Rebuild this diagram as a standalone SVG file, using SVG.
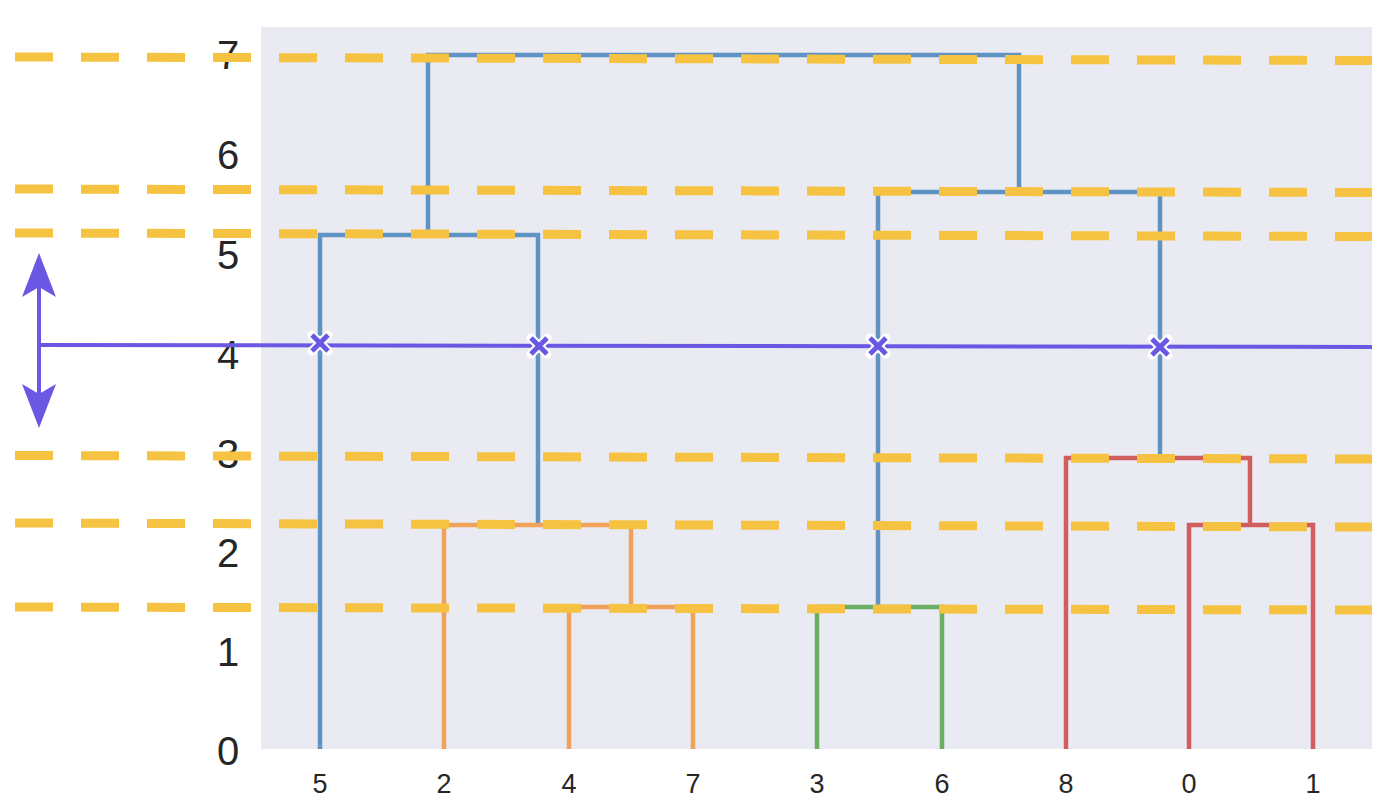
<svg xmlns="http://www.w3.org/2000/svg" width="1386" height="810" viewBox="0 0 1386 810">
<defs>
<style>
.tick{font-family:"Liberation Sans",Arial,sans-serif;fill:#262626;text-anchor:middle}
.ty{font-size:40px}
.tx{font-size:27px}
.ln{fill:none;stroke-width:4.5;stroke-linejoin:miter;stroke-linecap:butt}
.b{stroke:#5f93c4}
.o{stroke:#f0a25a}
.g{stroke:#6aaf64}
.r{stroke:#d15e5e}
.dash{stroke:#f5c242;stroke-width:9;stroke-dasharray:38 28;fill:none}
.cut{stroke:#6a57e3;stroke-width:4;fill:none}
.xo{stroke:#ffffff;stroke-width:9;stroke-linecap:round}
.xi{stroke:#6a57e3;stroke-width:5;stroke-linecap:butt}
</style>
<g id="xm">
<line class="xo" x1="-8" y1="-8" x2="8" y2="8"/><line class="xo" x1="-8" y1="8" x2="8" y2="-8"/>
<line class="xi" x1="-8" y1="-8" x2="8" y2="8"/><line class="xi" x1="-8" y1="8" x2="8" y2="-8"/>
</g>
</defs>
<rect width="1386" height="810" fill="#ffffff"/>
<rect id="plot" x="261" y="27" width="1111" height="722" fill="#eaeaf2"/>
<g id="yticks" class="tick ty">
<text x="228" y="765">0</text>
<text x="228" y="666">1</text>
<text x="228" y="567">2</text>
<text x="228" y="468">3</text>
<text x="228" y="369">4</text>
<text x="228" y="269">5</text>
<text x="228" y="169">6</text>
<text x="228" y="69">7</text>
</g>
<g id="xticks" class="tick tx">
<text x="320" y="793">5</text>
<text x="444" y="793">2</text>
<text x="569" y="793">4</text>
<text x="693" y="793">7</text>
<text x="817" y="793">3</text>
<text x="942" y="793">6</text>
<text x="1066" y="793">8</text>
<text x="1189" y="793">0</text>
<text x="1313" y="793">1</text>
</g>
<g id="connectors">
<path class="ln b" d="M428 235 V55 H1019 V191"/>
<path class="ln b" d="M320 749 V235 H538 V525"/>
<path class="ln b" d="M878 607 V192 H1160 V458"/>
<path class="ln o" d="M444 749 V525 H631 V607"/>
<path class="ln o" d="M569 749 V607 H693 V749"/>
<path class="ln g" d="M817 749 V607 H942 V749"/>
<path class="ln r" d="M1066 749 V458 H1250 V525"/>
<path class="ln r" d="M1189 749 V525 H1313 V749"/>
</g>
<g id="thresholds">
<line class="dash" x1="15" y1="57" x2="1372" y2="60.5"/>
<line class="dash" x1="15" y1="189" x2="1372" y2="192.5"/>
<line class="dash" x1="15" y1="233" x2="1372" y2="236.5"/>
<line class="dash" x1="15" y1="455.5" x2="1372" y2="459"/>
<line class="dash" x1="15" y1="523" x2="1372" y2="527"/>
<line class="dash" x1="15" y1="607" x2="1372" y2="610"/>
</g>
<g id="cutline">
<line class="cut" x1="39" y1="345" x2="1372" y2="347"/>
<line class="cut" x1="39" y1="275" x2="39" y2="410"/>
<path d="M39 253 L56 297 L39 287 L22 297 Z" fill="#6a57e3"/>
<path d="M39 428 L56 384 L39 394 L22 384 Z" fill="#6a57e3"/>
<use href="#xm" x="320" y="343"/>
<use href="#xm" x="539" y="346"/>
<use href="#xm" x="878" y="346"/>
<use href="#xm" x="1160" y="347"/>
</g>
</svg>
